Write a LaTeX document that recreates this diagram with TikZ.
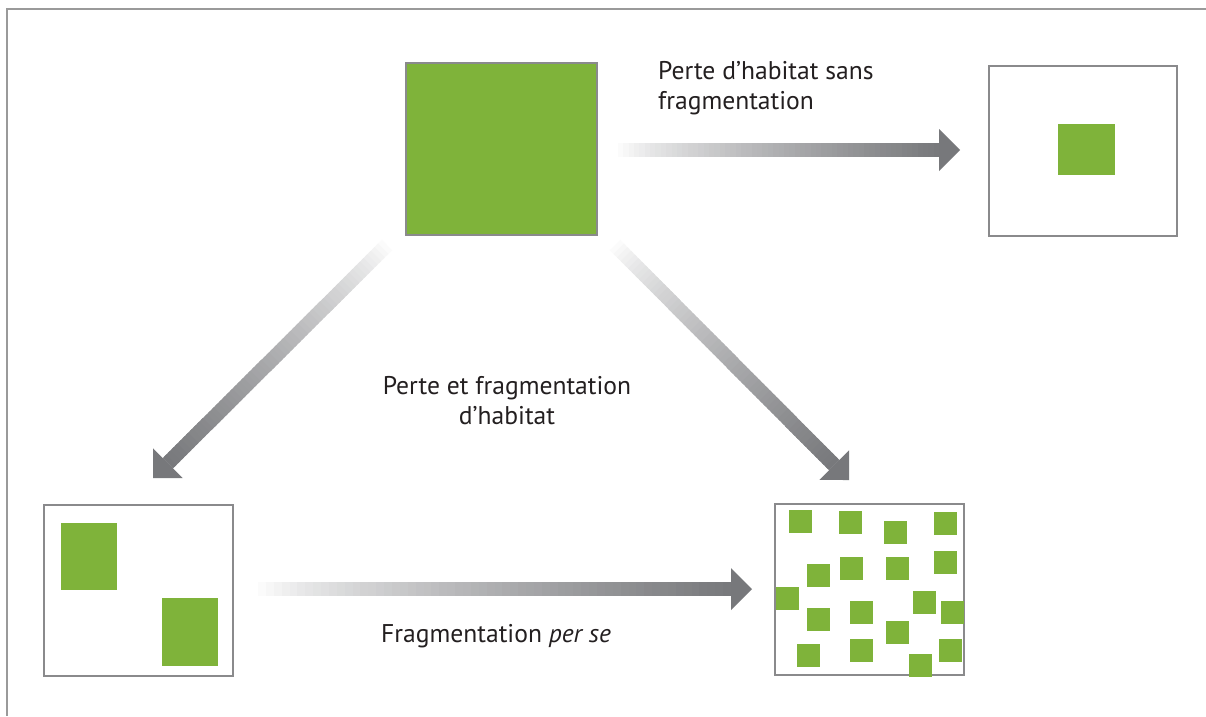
\documentclass[tikz,border=0pt]{standalone}
\usepackage{fontspec}
\setmainfont{PT Sans}
\usetikzlibrary{calc}
\definecolor{leaf}{HTML}{7FB33A}
\definecolor{boxgray}{HTML}{8A8A8C}
\definecolor{ag}{HTML}{77787B}
\definecolor{framegray}{HTML}{9A9A9A}
\definecolor{txt}{HTML}{231F20}
\tikzset{
  framebox/.style={draw=boxgray, line width=2.2pt, fill=white, inner sep=0pt},
  greenbox/.style={draw=boxgray, line width=2pt, fill=leaf, inner sep=0pt},
  lbl/.style={text=txt, inner sep=0pt, font=\fontsize{25.6}{30}\selectfont},
}
\newcommand\gradarrow[2]{%
  \coordinate (#1-b) at ($(#2)!21pt!(#1)$);
  \foreach \i in {0,...,59}{%
    \pgfmathtruncatemacro\pct{round(100*((\i+0.5)/60)^0.75)}%
    \pgfmathsetmacro\ta{\i/60}%
    \pgfmathsetmacro\tb{min(1,(\i+1.6)/60)}%
    \draw[line width=14.5pt, ag!\pct!white] ($(#1)!\ta!(#1-b)$) -- ($(#1)!\tb!(#1-b)$);
  }
  \fill[ag] ($(#1-b)!21pt!90:(#2)$) -- (#2) -- ($(#1-b)!21pt!-90:(#2)$) -- cycle;
}
\begin{document}
\begin{tikzpicture}[x=1pt, y=-1pt]
\useasboundingbox[fill=white] (0,0) rectangle (1206,716);
% outer frame
\draw[framegray, line width=2pt] (1206,9) -- (7,9) -- (7,716);

% boxes
\node[greenbox, minimum width=191pt, minimum height=172pt] (src) at (501.5,149) {};
\node[framebox, minimum width=188pt, minimum height=170pt] (loss) at (1083,151) {};
\node[framebox, minimum width=189pt, minimum height=171pt] (both) at (138.5,590.5) {};
\node[framebox, minimum width=189pt, minimum height=171pt] (frag) at (869.5,589.5) {};

% patches
\fill[leaf] (1058,124) rectangle (1115,175);
\fill[leaf] (61,523) rectangle (117,590);
\fill[leaf] (162,598) rectangle (218,666);
\foreach \x/\y in {789/510, 839/511, 884/521, 934/512,
                   807/564, 840/557, 886/557, 934/551,
                   776/587, 913/591, 941/601,
                   807/608, 850/601, 886/621,
                   797/644, 850/639, 939/639, 909/654}{
  \fill[leaf] (\x,\y) rectangle ++(23,23);
}

% arrows
\coordinate (a1s) at (618,150);
\coordinate (a1t) at (960,150);
\coordinate (a2s) at (387,245);
\coordinate (a2t) at (153,478);
\coordinate (a3s) at (615,245);
\coordinate (a3t) at (849,480);
\coordinate (a4s) at (258,589);
\coordinate (a4t) at (752,589);
\gradarrow{a1s}{a1t}
\gradarrow{a2s}{a2t}
\gradarrow{a3s}{a3t}
\gradarrow{a4s}{a4t}

% labels
\node[lbl, anchor=base west, align=left] (t1) at (658,109) {Perte d’habitat sans\\fragmentation};
\node[lbl, anchor=base, align=center] (t2) at (507,424) {Perte et fragmentation\\d’habitat};
\node[lbl, anchor=base west] (t3) at (381,642) {Fragmentation \textit{per se}};
\end{tikzpicture}
\end{document}
